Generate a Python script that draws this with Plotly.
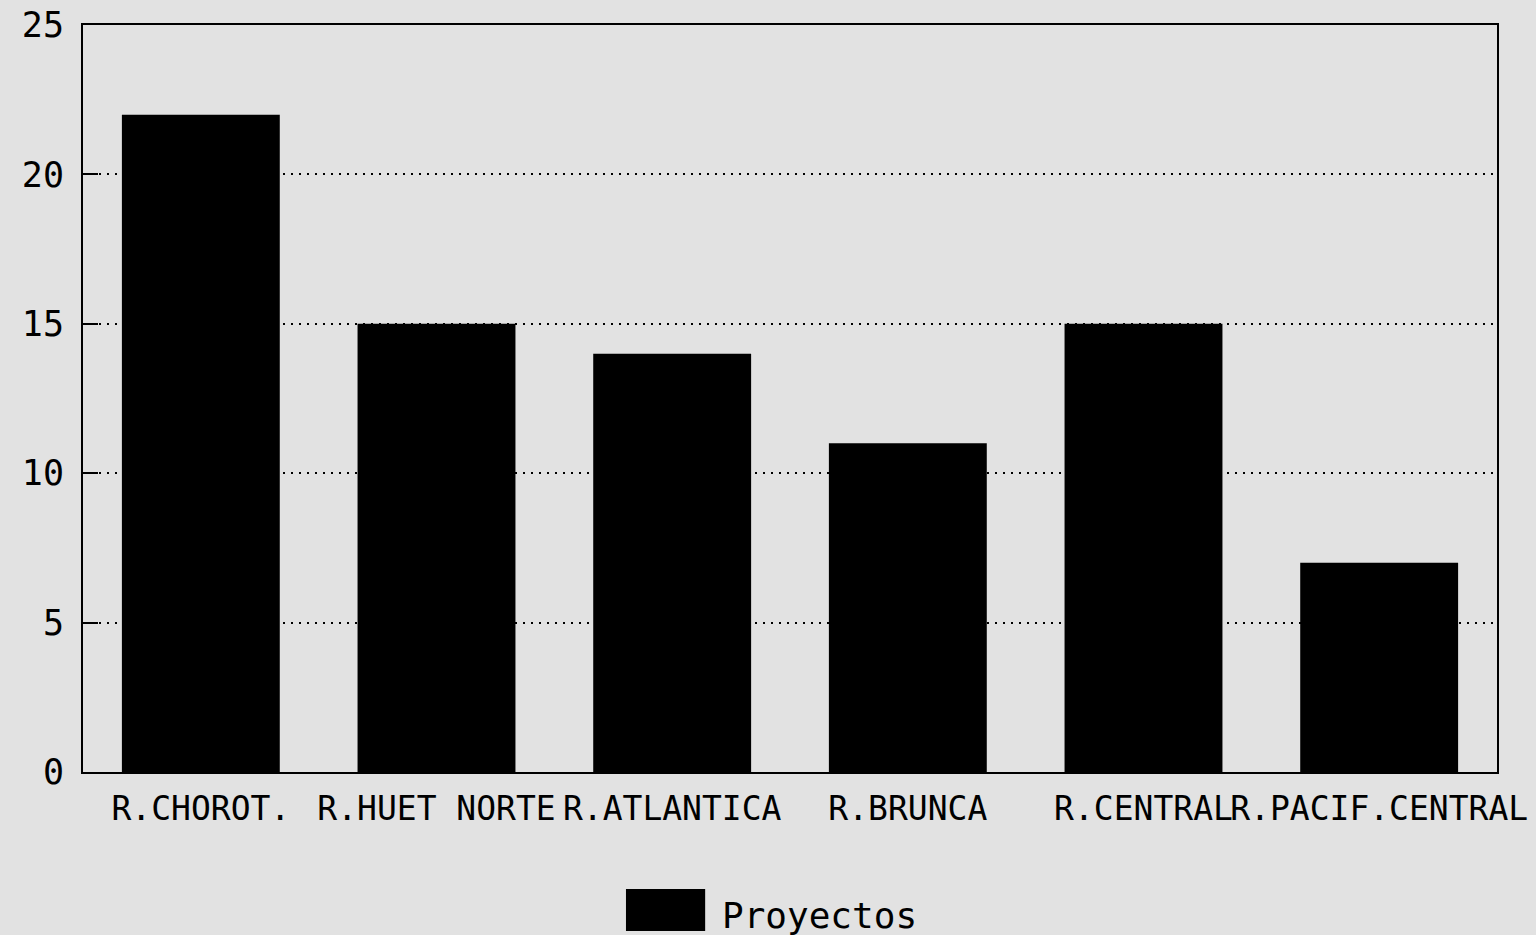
import plotly.graph_objects as go

categories = ["R.CHOROT.", "R.HUET NORTE", "R.ATLANTICA", "R.BRUNCA", "R.CENTRAL", "R.PACIF.CENTRAL"]
proyectos = [22, 15, 14, 11, 15, 7]
series_name = "Proyectos"
y_ticks = [0, 5, 10, 15, 20, 25]

FONT = "DejaVu Sans Mono"
BG = "#e2e2e2"

fig = go.Figure()
fig.add_trace(go.Bar(x=categories, y=proyectos, name=series_name,
                     marker=dict(color="black", line=dict(width=0)),
                     showlegend=False))

fig.update_layout(
    width=1536, height=935,
    margin=dict(l=83, r=39, t=25, b=163),
    paper_bgcolor=BG, plot_bgcolor=BG,
    bargap=0.33,
    font=dict(family=FONT, size=34, color="black"),
    xaxis=dict(showline=True, linecolor="black", linewidth=2, mirror=True,
               ticks="", showgrid=False, tickangle=0, automargin=False,
               ticklabelstandoff=6,
               tickfont=dict(family=FONT, size=33, color="black")),
    yaxis=dict(range=[0, 25], tickvals=y_ticks, showline=True, linecolor="black",
               linewidth=2, mirror=True, ticks="inside", ticklen=15,
               tickcolor="black", tickwidth=2, showgrid=True, gridcolor="black",
               gridwidth=2, griddash="2px,6px", zeroline=False,
               ticklabelstandoff=10, automargin=False,
               tickfont=dict(family=FONT, size=35, color="black")),
)

# legend drawn as a large swatch and label
fig.add_shape(type="rect", xref="paper", yref="paper",
              x0=0.384, x1=0.44, y0=-0.2129, y1=-0.1566,
              fillcolor="black", line=dict(width=0))
fig.add_annotation(text=series_name, xref="paper", yref="paper",
                   x=0.4505, y=-0.1915, xanchor="left", yanchor="middle",
                   showarrow=False, font=dict(family=FONT, size=36, color="black"))

fig.write_html("out.html", config={"displayModeBar": False},
               post_script="document.body.style.margin='0';document.body.style.background='%s';"
                           "document.body.style.overflow='hidden';" % BG)
